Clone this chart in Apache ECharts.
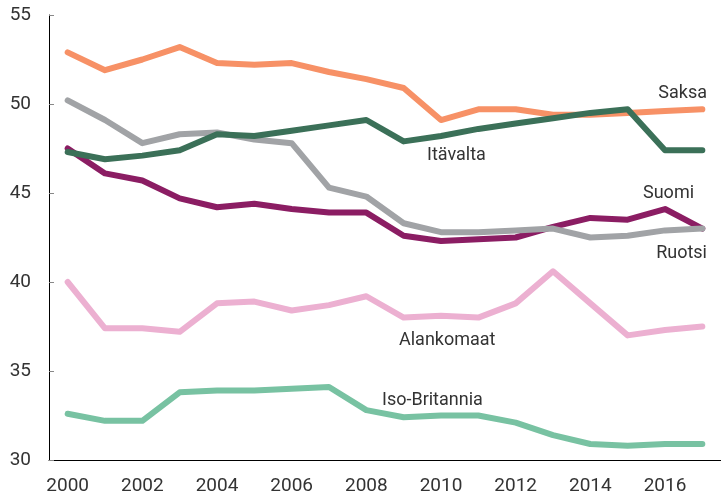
<!DOCTYPE html>
<html>
<head>
<meta charset="utf-8">
<script src="https://cdn.jsdelivr.net/npm/echarts@6/dist/echarts.min.js"></script>
<style>
  html, body { margin: 0; padding: 0; background: #fff; }
  #chart { width: 721px; height: 496px; }
</style>
</head>
<body>
<div id="chart"></div>
<script>
  // vuodet
  var years = ['2000', '2001', '2002', '2003', '2004', '2005', '2006', '2007', '2008',
    '2009', '2010', '2011', '2012', '2013', '2014', '2015', '2016', '2017']
  var yTicks = [30, 35, 40, 45, 50, 55]

  var saksa = [52.9, 51.9, 52.5, 53.2, 52.3, 52.2, 52.3, 51.8, 51.4, 50.9, 49.1, 49.7, 49.7, 49.4, 49.4, 49.5, 49.6, 49.7]
  var itavalta = [47.3, 46.9, 47.1, 47.4, 48.3, 48.2, 48.5, 48.8, 49.1, 47.9, 48.2, 48.6, 48.9, 49.2, 49.5, 49.7, 47.4, 47.4]
  var ruotsi = [50.2, 49.1, 47.8, 48.3, 48.4, 48.0, 47.8, 45.3, 44.8, 43.3, 42.8, 42.8, 42.9, 43.0, 42.5, 42.6, 42.9, 43.0]
  var suomi = [47.5, 46.1, 45.7, 44.7, 44.2, 44.4, 44.1, 43.9, 43.9, 42.6, 42.3, 42.4, 42.5, 43.1, 43.6, 43.5, 44.1, 43.0]
  var alankomaat = [40.0, 37.4, 37.4, 37.2, 38.8, 38.9, 38.4, 38.7, 39.2, 38.0, 38.1, 38.0, 38.8, 40.6, 38.8, 37.0, 37.3, 37.5]
  var isoBritannia = [32.6, 32.2, 32.2, 33.8, 33.9, 33.9, 34.0, 34.1, 32.8, 32.4, 32.5, 32.5, 32.1, 31.4, 30.9, 30.8, 30.9, 30.9]

  var myChart = echarts.init(document.getElementById('chart'))

  var FONT = 'Roboto'
  var textColor = '#333'

  function line(name, data, color) {
    return {
      name: name,
      type: 'line',
      data: data,
      symbol: 'none',
      smooth: false,
      lineStyle: { width: 6, color: color, cap: 'round', join: 'round' },
      itemStyle: { color: color },
      emphasis: { disabled: true },
      z: 2
    }
  }

  function label(text, x, y, align) {
    return {
      type: 'text',
      x: x,
      y: y,
      style: {
        text: text,
        fill: textColor,
        font: '18px ' + FONT,
        textAlign: align,
        textVerticalAlign: 'middle'
      },
      z: 10
    }
  }

  var option = {
    animation: false,
    grid: { left: 49, right: -3, top: 15, bottom: 33 },
    xAxis: {
      type: 'category',
      data: years,
      boundaryGap: true,
      axisLine: { lineStyle: { color: '#000', width: 1 } },
      axisTick: {
        inside: true,
        length: 5,
        interval: 0,
        lineStyle: { color: '#888' }
      },
      axisLabel: {
        interval: 1,
        margin: 17,
        fontSize: 19,
        fontFamily: FONT,
        color: textColor
      },
      splitLine: { show: false }
    },
    yAxis: {
      type: 'value',
      min: yTicks[0],
      max: yTicks[yTicks.length - 1],
      interval: 5,
      axisLine: { show: true, lineStyle: { color: '#000', width: 1 } },
      axisTick: {
        show: true,
        inside: true,
        length: 5,
        lineStyle: { color: '#888' }
      },
      axisLabel: {
        margin: 18,
        fontSize: 19,
        fontFamily: FONT,
        color: textColor
      },
      splitLine: { show: false }
    },
    series: [
      line('Iso-Britannia', isoBritannia, '#78c2a2'),
      line('Alankomaat', alankomaat, '#ecb0d1'),
      line('Suomi', suomi, '#8b1d63'),
      line('Ruotsi', ruotsi, '#a1a3a6'),
      line('Saksa', saksa, '#f79166'),
      line('Itävalta', itavalta, '#3b7058')
    ],
    graphic: [
      label('Saksa', 707, 93, 'right'),
      label('Itävalta', 427, 155, 'left'),
      label('Suomi', 643, 193, 'left'),
      label('Ruotsi', 707, 253, 'right'),
      label('Alankomaat', 399, 340, 'left'),
      label('Iso-Britannia', 382, 400, 'left')
    ]
  }

  myChart.setOption(option)
</script>
</body>
</html>
